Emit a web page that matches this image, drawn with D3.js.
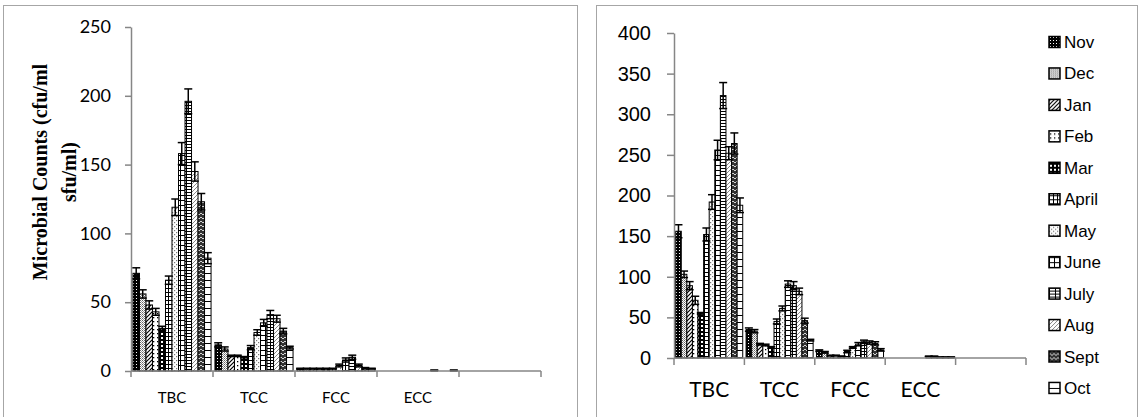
<!DOCTYPE html>
<html>
<head>
<meta charset="utf-8">
<script src="https://cdn.jsdelivr.net/npm/d3@7"></script>
<style>
  body { margin: 0; background: #fff; }
  svg { display: block; }
</style>
</head>
<body>
<div id="chart"></div>
<script>
const categories = ["TBC", "TCC", "FCC", "ECC", ""];
const months = ["Nov", "Dec", "Jan", "Feb", "Mar", "April", "May", "June", "July", "Aug", "Sept", "Oct"];

// left panel (series per category, Nov..Oct)
const leftTBC = [71, 56, 48, 43, 31, 66, 119, 158, 196, 145, 123, 82];
const leftTCC = [19, 16, 11, 11, 10, 17, 28, 35, 41, 38, 29, 17];
const leftFCC = [1.7, 1.7, 1.7, 1.7, 1.7, 1.7, 4, 8, 10, 4, 2, 1.7];
const leftECC = [0, 0, 0, 0, 0, 0, 0, 0, 0.5, 0, 0, 0.5];
const leftTBCerr = [4, 3, 3, 2.5, 1.5, 3, 6, 8, 9, 7, 6, 4];
const leftTCCerr = [1.5, 1.5, 0.5, 0.5, 0.5, 1.5, 2, 2.5, 3, 2.5, 2, 1];
const leftFCCerr = [0.3, 0.3, 0.3, 0.3, 0.3, 0.3, 1, 1.5, 1.5, 1, 0.5, 0.3];
const leftECCerr = [0, 0, 0, 0, 0, 0, 0, 0, 0.2, 0, 0, 0.2];

// right panel
const rightTBC = [156, 103, 89, 71, 55, 152, 192, 256, 323, 252, 264, 188];
const rightTCC = [35, 33, 17, 16, 13, 45, 61, 91, 89, 82, 46, 22];
const rightFCC = [9, 7, 3, 3, 2, 8, 13, 17, 20, 19, 18, 10];
const rightECC = [0, 0, 0, 0, 0, 0, 0, 2, 2, 1, 1, 1];
const rightTBCerr = [8, 4, 5, 5, 1, 8, 9, 12, 16, 8, 13, 9];
const rightTCCerr = [2, 2, 1, 1, 1, 3, 3, 4, 5, 4, 3, 1];
const rightFCCerr = [1, 1, 0.5, 0.5, 0.5, 1.5, 1, 2, 2, 2, 2, 1.5];
const rightECCerr = [0, 0, 0, 0, 0, 0, 0, 0.3, 0.3, 0.3, 0.3, 0.3];

const leftTicks = [0, 50, 100, 150, 200, 250];
const rightTicks = [0, 50, 100, 150, 200, 250, 300, 350, 400];

const svg = d3.select("#chart").append("svg")
    .attr("width", 1140)
    .attr("height", 417);

const defs = svg.append("defs");

function addPattern(id, w, h, bg, draw) {
    const p = defs.append("pattern")
        .attr("id", id)
        .attr("patternUnits", "userSpaceOnUse")
        .attr("width", w)
        .attr("height", h);
    p.append("rect").attr("width", w).attr("height", h).attr("fill", bg);
    draw(p);
}
const dot = (p, x, y, s, c) => p.append("rect").attr("x", x).attr("y", y).attr("width", s).attr("height", s).attr("fill", c);
const ln = (p, d, c, w) => p.append("path").attr("d", d).attr("stroke", c).attr("stroke-width", w).attr("fill", "none");

addPattern("p0", 3, 3, "#000", p => dot(p, 1, 1, 1, "#fff"));
addPattern("p1", 2, 2, "#fff", p => { dot(p, 0, 0, 1, "#666"); dot(p, 1, 1, 1, "#999"); });
addPattern("p2", 4, 4, "#fff", p => ln(p, "M0,4L4,0M-1,1L1,-1M3,5L5,3", "#000", 1.2));
addPattern("p3", 4, 4, "#fff", p => dot(p, 1, 1, 1.3, "#000"));
addPattern("p4", 4, 4, "#000", p => dot(p, 1, 1, 2, "#fff"));
addPattern("p5", 4, 4, "#fff", p => ln(p, "M0,0.5H4M0.5,0V4", "#000", 1));
addPattern("p6", 4, 4, "#fff", p => { dot(p, 0, 0, 1.2, "#777"); dot(p, 2, 2, 1.2, "#777"); });
addPattern("p7", 5, 5, "#fff", p => ln(p, "M0,0.5H5M0.5,0V5", "#000", 1));
addPattern("p8", 6, 3, "#fff", p => ln(p, "M0,0.5H6M0.5,0V3", "#000", 1));
addPattern("p9", 4, 4, "#fff", p => ln(p, "M0,4L4,0", "#888", 1));
addPattern("p10", 4, 4, "#333", p => ln(p, "M0,2Q1,0 2,2T4,2", "#fff", 0.8));
addPattern("p11", 6, 7, "#fff", p => ln(p, "M0,0.5H6", "#000", 1));

const fills = months.map((m, i) => `url(#p${i})`);

function drawPanel(cfg) {
    const g = svg.append("g");

    const x = d3.scaleBand().domain(categories).range([cfg.x0, cfg.x1]).paddingInner(0).paddingOuter(0);
    const xs = d3.scaleBand().domain(months).range([0, x.bandwidth()]).paddingInner(0).paddingOuter(cfg.groupPad);
    const y = d3.scaleLinear().domain([0, cfg.ymax]).range([cfg.y0, cfg.y1]);

    const rows = [];
    cfg.values.forEach((vals, ci) => {
        vals.forEach((v, mi) => {
            rows.push({ cat: categories[ci], month: months[mi], i: mi, v: v, e: cfg.errors[ci][mi] });
        });
    });
    const shown = rows.filter(d => d.v > 0);

    g.append("g").selectAll("rect")
        .data(shown)
        .join("rect")
        .attr("x", d => x(d.cat) + xs(d.month))
        .attr("y", d => y(d.v))
        .attr("width", xs.bandwidth())
        .attr("height", d => y(0) - y(d.v))
        .attr("fill", d => fills[d.i])
        .attr("stroke", "#000")
        .attr("stroke-width", 1);

    const eb = g.append("g").attr("stroke", "#000").attr("stroke-width", 1.5);
    const cx = d => x(d.cat) + xs(d.month) + xs.bandwidth() / 2;
    const withErr = shown.filter(d => d.e > 0);
    eb.selectAll("line.v").data(withErr).join("line").attr("class", "v")
        .attr("x1", cx).attr("x2", cx)
        .attr("y1", d => y(d.v + d.e)).attr("y2", d => y(Math.max(0, d.v - d.e)));
    eb.selectAll("line.t").data(withErr).join("line").attr("class", "t")
        .attr("x1", d => cx(d) - cfg.cap).attr("x2", d => cx(d) + cfg.cap)
        .attr("y1", d => y(d.v + d.e)).attr("y2", d => y(d.v + d.e));
    eb.selectAll("line.b").data(withErr).join("line").attr("class", "b")
        .attr("x1", d => cx(d) - cfg.cap).attr("x2", d => cx(d) + cfg.cap)
        .attr("y1", d => y(Math.max(0, d.v - d.e))).attr("y2", d => y(Math.max(0, d.v - d.e)));

    // y axis
    const ya = g.append("g")
        .attr("transform", `translate(${cfg.x0},0)`)
        .call(d3.axisLeft(y).tickValues(cfg.ticks).tickSize(cfg.tickLen).tickSizeOuter(0).tickPadding(cfg.tickPad));
    ya.selectAll("path, line").attr("stroke", "#868686").attr("stroke-width", 1.5);
    ya.selectAll("text").attr("font-family", cfg.yFont).attr("font-size", cfg.yFontSize).attr("fill", "#000");

    // x axis: line, boundary ticks, centred labels
    const bounds = categories.map(c => x(c)).concat([cfg.x1]);
    const xa = g.append("g").attr("stroke", "#868686").attr("stroke-width", 1.5);
    xa.append("line").attr("x1", cfg.x0).attr("x2", cfg.x1).attr("y1", y(0)).attr("y2", y(0));
    xa.selectAll("line.tk").data(bounds).join("line").attr("class", "tk")
        .attr("x1", d => d).attr("x2", d => d)
        .attr("y1", y(0)).attr("y2", y(0) + cfg.tickLen);

    g.append("g").selectAll("text")
        .data(categories.filter(c => c))
        .join("text")
        .attr("x", d => x(d) + x.bandwidth() / 2)
        .attr("y", y(0) + cfg.labelDy)
        .attr("text-anchor", "middle")
        .attr("font-family", "Lato, 'Open Sans', sans-serif")
        .attr("font-size", cfg.xFontSize)
        .text(d => d);

    return g;
}

// panel frames
svg.append("rect").attr("x", 3.5).attr("y", 5.5).attr("width", 574).attr("height", 420)
    .attr("fill", "none").attr("stroke", "#a6a6a6").attr("stroke-width", 1);
svg.append("rect").attr("x", 596.5).attr("y", 5.5).attr("width", 541).attr("height", 420)
    .attr("fill", "none").attr("stroke", "#a6a6a6").attr("stroke-width", 1);

drawPanel({
    x0: 131, x1: 541, y0: 371, y1: 27, ymax: 250,
    ticks: leftTicks,
    values: [leftTBC, leftTCC, leftFCC, leftECC, []],
    errors: [leftTBCerr, leftTCCerr, leftFCCerr, leftECCerr, []],
    groupPad: 0.3, cap: 4, tickLen: 6, tickPad: 14,
    yFont: "Lato, 'Open Sans', sans-serif", yFontSize: 18,
    xFontSize: 15, labelDy: 32
});

drawPanel({
    x0: 674, x1: 1026, y0: 358, y1: 33, ymax: 400,
    ticks: rightTicks,
    values: [rightTBC, rightTCC, rightFCC, rightECC, []],
    errors: [rightTBCerr, rightTCCerr, rightFCCerr, rightECCerr, []],
    groupPad: 0.3, cap: 4, tickLen: 7, tickPad: 16,
    yFont: "'Liberation Sans', Arial, sans-serif", yFontSize: 20,
    xFontSize: 21, labelDy: 39
});

// y axis title (left panel)
const title = svg.append("text")
    .attr("transform", "translate(47,172) rotate(-90)")
    .attr("text-anchor", "middle")
    .attr("font-family", "'Liberation Serif', 'Times New Roman', serif")
    .attr("font-weight", "bold")
    .attr("font-size", 20);
title.append("tspan").attr("x", 0).attr("dy", 0).text("Microbial Counts (cfu/ml");
title.append("tspan").attr("x", 0).attr("dy", 29).text("sfu/ml)");

// legend (right panel)
const legend = svg.append("g").selectAll("g")
    .data(months)
    .join("g")
    .attr("transform", (d, i) => `translate(1049,${42 + i * 31.45})`);
legend.append("rect")
    .attr("x", 0).attr("y", -5.5).attr("width", 11).attr("height", 11)
    .attr("fill", (d, i) => fills[i])
    .attr("stroke", "#000").attr("stroke-width", 1.5);
legend.append("text")
    .attr("x", 15).attr("y", 6)
    .attr("font-family", "'Liberation Sans', Arial, sans-serif")
    .attr("font-size", 17)
    .text(d => d);
</script>
</body>
</html>
